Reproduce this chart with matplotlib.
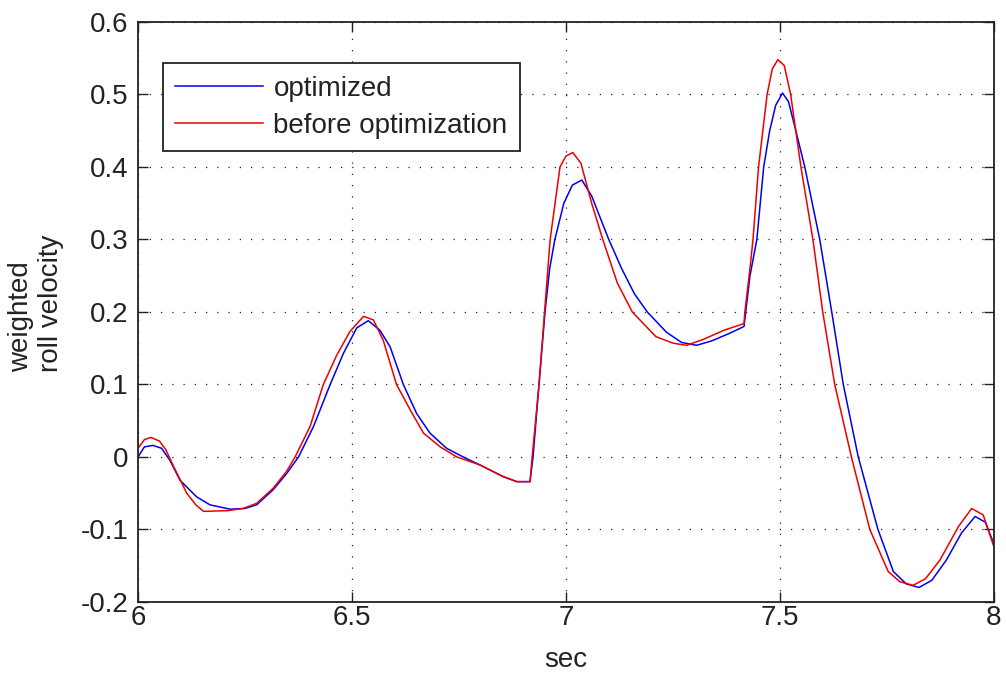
import matplotlib
matplotlib.use('Agg')
import matplotlib.pyplot as plt

# values
t_opt = [6.000, 6.015, 6.035, 6.055, 6.075, 6.098, 6.137, 6.168, 6.215, 6.250,
         6.277, 6.316, 6.347, 6.375, 6.410, 6.449, 6.480, 6.511, 6.538, 6.565,
         6.589, 6.620, 6.651, 6.682, 6.721, 6.760, 6.799, 6.853, 6.885, 6.916,
         6.923, 6.937, 6.951, 6.962, 6.974, 6.995, 7.015, 7.037, 7.060, 7.080,
         7.100, 7.130, 7.160, 7.190, 7.235, 7.270, 7.305, 7.340, 7.380, 7.416,
         7.418, 7.430, 7.446, 7.462, 7.476, 7.490, 7.506, 7.520, 7.535, 7.558,
         7.593, 7.621, 7.648, 7.683, 7.729, 7.765, 7.795, 7.825, 7.855, 7.889,
         7.924, 7.956, 7.980, 8.000]
y_opt = [0.000, 0.014, 0.016, 0.012, -0.005, -0.032, -0.055, -0.066, -0.072, -0.071,
         -0.066, -0.045, -0.023, 0.000, 0.042, 0.100, 0.143, 0.178, 0.188, 0.175,
         0.152, 0.100, 0.060, 0.033, 0.012, 0.000, -0.011, -0.027, -0.034, -0.034,
         0.000, 0.100, 0.200, 0.260, 0.300, 0.350, 0.375, 0.382, 0.360, 0.330,
         0.300, 0.260, 0.225, 0.200, 0.172, 0.158, 0.154, 0.160, 0.170, 0.180,
         0.190, 0.250, 0.300, 0.400, 0.450, 0.485, 0.502, 0.490, 0.455, 0.400,
         0.300, 0.200, 0.100, 0.000, -0.100, -0.158, -0.175, -0.180, -0.170, -0.142,
         -0.105, -0.082, -0.090, -0.120]

t_before = [6.000, 6.015, 6.030, 6.050, 6.065, 6.083, 6.114, 6.135, 6.153, 6.210,
            6.245, 6.277, 6.316, 6.347, 6.367, 6.402, 6.433, 6.464, 6.495, 6.527,
            6.550, 6.573, 6.604, 6.636, 6.667, 6.706, 6.745, 6.799, 6.853, 6.885,
            6.916, 6.921, 6.937, 6.950, 6.963, 6.986, 7.000, 7.016, 7.035, 7.060,
            7.086, 7.120, 7.155, 7.210, 7.250, 7.282, 7.320, 7.370, 7.416, 7.418,
            7.430, 7.437, 7.450, 7.470, 7.482, 7.495, 7.510, 7.525, 7.549, 7.577,
            7.600, 7.628, 7.667, 7.710, 7.753, 7.780, 7.811, 7.840, 7.874, 7.917,
            7.948, 7.975, 8.000]
y_before = [0.012, 0.024, 0.027, 0.022, 0.010, -0.013, -0.050, -0.066, -0.075, -0.074,
            -0.071, -0.064, -0.043, -0.020, 0.000, 0.042, 0.100, 0.140, 0.173, 0.194,
            0.189, 0.161, 0.100, 0.065, 0.033, 0.014, 0.000, -0.011, -0.027, -0.034,
            -0.034, 0.000, 0.100, 0.200, 0.300, 0.400, 0.415, 0.420, 0.405, 0.350,
            0.300, 0.240, 0.200, 0.166, 0.157, 0.154, 0.162, 0.175, 0.184, 0.200,
            0.260, 0.300, 0.400, 0.500, 0.535, 0.548, 0.540, 0.500, 0.400, 0.300,
            0.200, 0.100, 0.000, -0.100, -0.158, -0.172, -0.177, -0.168, -0.142, -0.096,
            -0.071, -0.080, -0.124]

x_ticks = [6, 6.5, 7, 7.5, 8]
x_labels = ['6', '6.5', '7', '7.5', '8']
y_ticks = [-0.2, -0.1, 0, 0.1, 0.2, 0.3, 0.4, 0.5, 0.6]
y_labels = ['-0.2', '-0.1', '0', '0.1', '0.2', '0.3', '0.4', '0.5', '0.6']

plt.rcParams['font.family'] = ['Liberation Sans', 'DejaVu Sans']
fs = 20

fig = plt.figure(figsize=(10.06, 6.78), dpi=100)
ax = fig.add_axes([0.1372, 0.1121, 0.8508, 0.8555])

ax.plot(t_opt, y_opt, color='#0000ee', linewidth=1.1, label='optimized')
ax.plot(t_before, y_before, color='#ee0000', linewidth=1.1, label='before optimization')

ax.set_xlim(6, 8)
ax.set_ylim(-0.2, 0.6)
ax.set_xticks(x_ticks)
ax.set_xticklabels(x_labels)
ax.set_yticks(y_ticks)
ax.set_yticklabels(y_labels)
ax.tick_params(direction='in', length=7, width=1, labelsize=fs, top=True, right=True, pad=2,
               colors='#222222')
ax.tick_params(axis='y', pad=7)

ax.grid(True, color='#222222', linestyle=(0, (1, 8)), linewidth=0.9)
for s in ax.spines.values():
    s.set_linewidth(1.3)
    s.set_color('#222222')

ax.set_xlabel('sec', fontsize=fs, labelpad=12, color='#222222')
ax.set_ylabel('weighted\nroll velocity', fontsize=fs, linespacing=1.2,
              multialignment='left', color='#222222')
ax.yaxis.set_label_coords(-0.086, 0.515)

leg = ax.legend(loc='upper left', bbox_to_anchor=(0.029, 0.929), borderaxespad=0,
                fontsize=fs, fancybox=False, framealpha=1, edgecolor='#222222',
                handlelength=3.17, handletextpad=0.36, labelspacing=0.4, borderpad=0.45)
leg.get_frame().set_linewidth(1.3)
for txt in leg.get_texts():
    txt.set_color('#222222')

fig.savefig('out.png', dpi=100)
